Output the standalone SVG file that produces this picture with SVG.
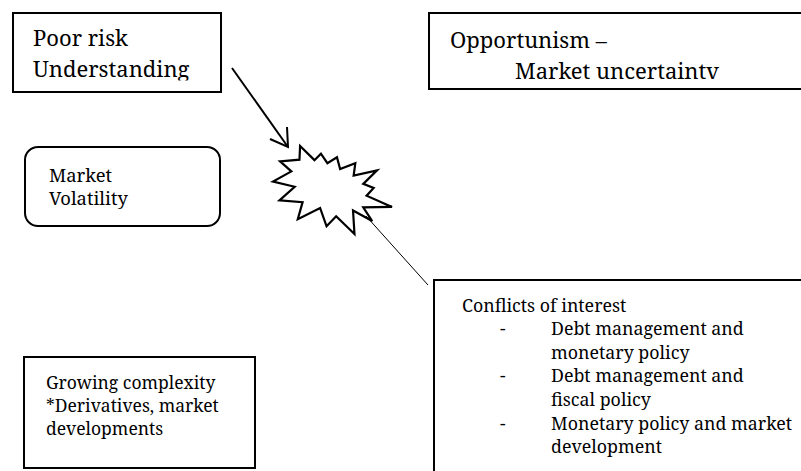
<svg xmlns="http://www.w3.org/2000/svg" width="801" height="471" viewBox="0 0 801 471">
<style>
.box{fill:#fff;stroke:#000;stroke-width:2}
.conn{stroke:#000;fill:none}
</style>
<defs>
<clipPath id="clipPoor"><rect x="14" y="14" width="206" height="66.5"/></clipPath>
<clipPath id="clipOpp"><rect x="430" y="14" width="371" height="67"/></clipPath>
</defs>
<rect width="801" height="471" fill="#fff"/>
<g fill="#000" font-family="'Noto Serif', 'DejaVu Serif', serif">
<g id="poor-risk">
<rect class="box" x="13" y="13" width="208" height="79"/>
<g clip-path="url(#clipPoor)" font-size="22">
<text x="33" y="46">Poor risk</text>
<text x="33" y="77">Understanding</text>
</g>
</g>
<g id="opportunism">
<rect class="box" x="429" y="13" width="400" height="76"/>
<g clip-path="url(#clipOpp)" font-size="22">
<text x="450" y="48">Opportunism –</text>
<text x="515" y="79">Market uncertaintv</text>
</g>
</g>
<g id="market-volatility" font-size="18.4">
<rect class="box" x="25" y="147" width="195" height="79" rx="13" ry="13"/>
<text x="49" y="182">Market</text>
<text x="49" y="205">Volatility</text>
</g>
<g id="explosion">
<path transform="translate(273,234) scale(0.0055093,-0.0040741)" vector-effect="non-scaling-stroke" fill="#fff" stroke="#000" stroke-width="2.2" d="M11462,4342L14790,0L14525,5777L18007,3172L16380,6532L21600,6645L16985,9402L18270,11290L16380,12310L18877,15632L14640,14350L14942,17370L12180,15935L11612,18842L9872,17370L8700,19712L7527,18125L4917,21600L4805,18240L1285,17825L3330,15370L0,12877L3935,11592L1172,8270L5372,7817L4502,3625L8550,6382L9722,1887Z"/>
</g>
<g id="growing-complexity" font-size="17.5">
<rect class="box" x="24" y="357" width="231" height="111"/>
<text x="46" y="389">Growing complexity</text>
<text x="46" y="412">*Derivatives, market</text>
<text x="46" y="435">developments</text>
</g>
<g id="conflicts" font-size="17.8">
<rect class="box" x="434" y="280" width="400" height="250"/>
<text x="462" y="312">Conflicts of interest</text>
<text x="500" y="335">-</text>
<text x="551" y="335">Debt management and</text>
<text x="551" y="358.5">monetary policy</text>
<text x="500" y="382">-</text>
<text x="551" y="382">Debt management and</text>
<text x="551" y="405.5">fiscal policy</text>
<text x="500" y="429.5">-</text>
<text x="551" y="429.5">Monetary policy and market</text>
<text x="551" y="453">development</text>
</g>
</g>
<g id="connectors">
<line class="conn" stroke-width="2" x1="232" y1="68" x2="288" y2="147"/>
<polyline class="conn" stroke-width="2" points="270,139 288,147 287,127"/>
<line class="conn" stroke-width="1" x1="366" y1="216" x2="428" y2="285"/>
</g>
</svg>
